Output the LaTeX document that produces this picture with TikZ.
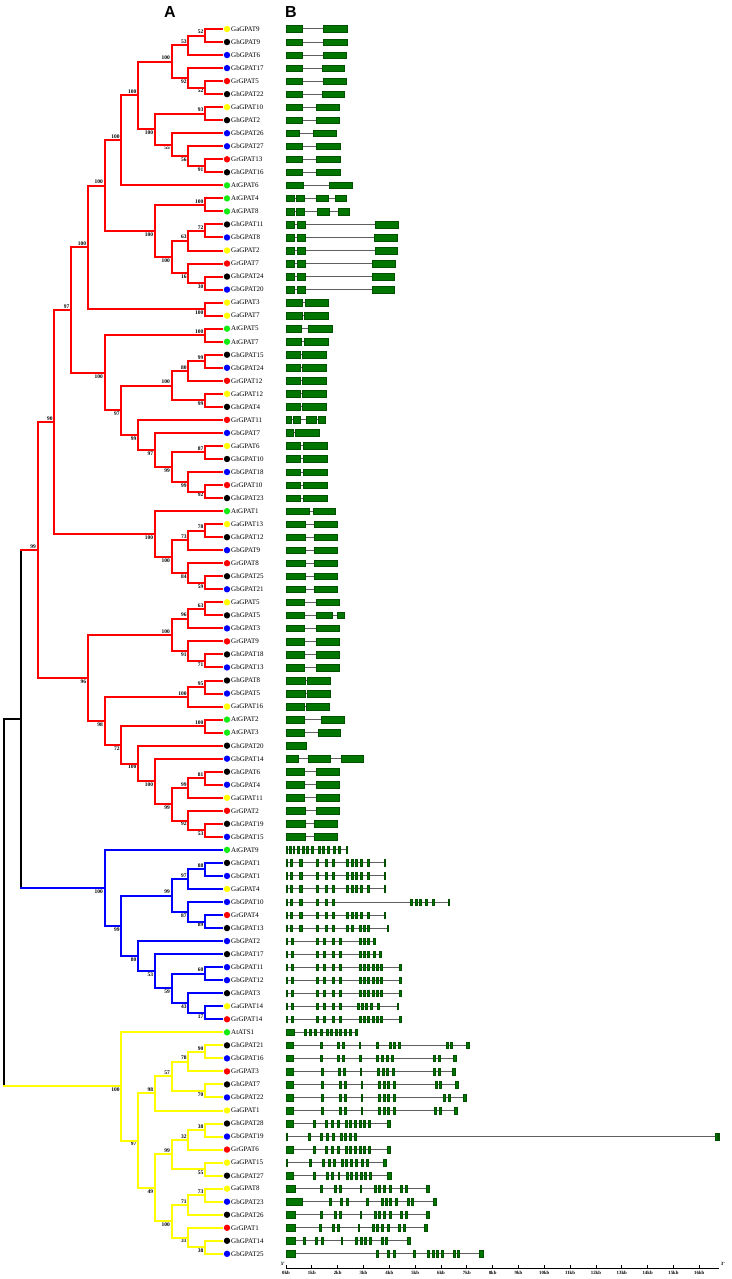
\documentclass[tikz,border=0pt]{standalone}
\usepackage{fontspec}
\setmainfont{Liberation Serif}
\newfontfamily\headfont{Liberation Sans}
\usetikzlibrary{calc}

\definecolor{cGa}{RGB}{255,255,0}
\definecolor{cGh}{RGB}{0,0,0}
\definecolor{cGb}{RGB}{0,0,255}
\definecolor{cGr}{RGB}{255,0,0}
\definecolor{cAt}{RGB}{20,235,20}
\definecolor{exonfill}{RGB}{0,118,0}
\definecolor{exonline}{RGB}{0,80,0}
\definecolor{introngray}{RGB}{95,95,95}
\colorlet{clade}{cGr}

\tikzset{
  treeline/.style={draw=clade, line width=2pt, line cap=rect},
  bs/.style={font=\fontsize{5.5}{6}\selectfont\bfseries, inner sep=1.5pt},
  leaf/.style={anchor=west, inner sep=0pt, font=\fontsize{7}{8}\selectfont},
  exon/.style={fill=exonfill, draw=exonline, line width=0.4pt},
  intron/.style={draw=introngray, line width=1pt},
  head/.style={font=\headfont\fontsize{16}{18}\selectfont\bfseries},
  kbl/.style={font=\fontsize{4.8}{5}\selectfont\bfseries, inner sep=0pt, anchor=north},
  axisline/.style={draw=black, line width=0.8pt}
}

% clade: name, upper child, lower child, support, label side
\newcommand\clade[5]{%
  \edef\hgtA{\csname ht#2\endcsname}\edef\hgtB{\csname ht#3\endcsname}%
  \pgfmathtruncatemacro\hgt{max(\hgtA,\hgtB)+1}%
  \expandafter\xdef\csname ht#1\endcsname{\hgt}%
  \pgfmathsetmacro\xc{221.75-16.75*\hgt}%
  \path let \p1=($(#2)!.5!(#3)$) in coordinate (#1) at (\xc pt,\y1);
  \draw[treeline] (#2) -- (#2 -| #1) -- (#3 -| #1) -- (#3);
  \node[bs,#5] at (#1) {#4};
}

% gene: leaf name, length, exons start/end
\newcommand\gene[3]{%
  \edef\exlist{#3}%
  \coordinate (g) at (#1 -| kb0);
  \draw[intron] (g) -- ++(#2,0);
  \foreach \s/\e in \exlist {\draw[exon] ([shift={(\s,-3.3)}]g) rectangle ([shift={(\e,3.3)}]g);}
}

\def\exGh{0/1.3, 4/5.7, 13.3/16, 29.7/31.7, 38.7/40.7, 45.7/47.7, 60.3/62.3, 64.7/66.7, 69/71, 74/76, 80.7/83.3, 98.3/99.3}
\def\exGb{0/1.3, 4.7/6.7, 29.7/31.7, 37.3/39.3, 45.7/47.7, 52.7/54.7, 73/75, 77/79, 81.3/83.3, 85.7/87.7, 90/92, 94/96, 113.3/114.7}
\def\exGr{0/7.3, 26.7/28.7, 39/41, 44.7/46.7, 51.3/52.7, 59/61, 63.3/65.3, 68/70, 73/75, 77.3/79.3, 82.3/84.3, 100.7/104}
\def\exGa{0/8.7, 34.3/36.3, 48/50, 53/55, 74/75.3, 88.3/90.3, 92.3/94.3, 96.7/98.7, 103/105, 114.3/116.3, 119/121, 140.3/143.3}

\begin{document}
\begin{tikzpicture}[x=1pt,y=-1pt]
\useasboundingbox (0,0) rectangle (731,1279);

\node[head] (hA) at (170,11.5) {A};
\node[head] (hB) at (291,11.5) {B};

% leaves
\foreach \g/\c [count=\i] in {GaGPAT9/cGa, GhGPAT9/cGh, GbGPAT6/cGb, GbGPAT17/cGb, GrGPAT5/cGr,
  GhGPAT22/cGh, GaGPAT10/cGa, GhGPAT2/cGh, GbGPAT26/cGb, GbGPAT27/cGb, GrGPAT13/cGr, GhGPAT16/cGh,
  AtGPAT6/cAt, AtGPAT4/cAt, AtGPAT8/cAt, GhGPAT11/cGh, GbGPAT8/cGb, GaGPAT2/cGa, GrGPAT7/cGr,
  GhGPAT24/cGh, GbGPAT20/cGb, GaGPAT3/cGa, GaGPAT7/cGa, AtGPAT5/cAt, AtGPAT7/cAt, GhGPAT15/cGh,
  GbGPAT24/cGb, GrGPAT12/cGr, GaGPAT12/cGa, GhGPAT4/cGh, GrGPAT11/cGr, GbGPAT7/cGb, GaGPAT6/cGa,
  GhGPAT10/cGh, GbGPAT18/cGb, GrGPAT10/cGr, GhGPAT23/cGh, AtGPAT1/cAt, GaGPAT13/cGa, GhGPAT12/cGh,
  GbGPAT9/cGb, GrGPAT8/cGr, GhGPAT25/cGh, GbGPAT21/cGb, GaGPAT5/cGa, GhGPAT5/cGh, GbGPAT3/cGb,
  GrGPAT9/cGr, GhGPAT18/cGh, GbGPAT13/cGb, GhGPAT8/cGh, GbGPAT5/cGb, GaGPAT16/cGa, AtGPAT2/cAt,
  AtGPAT3/cAt, GhGPAT20/cGh, GbGPAT14/cGb, GhGPAT6/cGh, GbGPAT4/cGb, GaGPAT11/cGa, GrGPAT2/cGr,
  GhGPAT19/cGh, GbGPAT15/cGb, AtGPAT9/cAt, GhGPAT1/cGh, GbGPAT1/cGb, GaGPAT4/cGa, GbGPAT10/cGb,
  GrGPAT4/cGr, GhGPAT13/cGh, GbGPAT2/cGb, GhGPAT17/cGh, GbGPAT11/cGb, GbGPAT12/cGb, GhGPAT3/cGh,
  GaGPAT14/cGa, GrGPAT14/cGr, AtATS1/cAt, GhGPAT21/cGh, GbGPAT16/cGb, GrGPAT3/cGr, GhGPAT7/cGh,
  GbGPAT22/cGb, GaGPAT1/cGa, GhGPAT28/cGh, GbGPAT19/cGb, GrGPAT6/cGr, GaGPAT15/cGa, GhGPAT27/cGh,
  GaGPAT8/cGa, GbGPAT23/cGb, GhGPAT26/cGh, GrGPAT1/cGr, GhGPAT14/cGh, GbGPAT25/cGb} {
  \coordinate (\g) at (222,{29+13.03*(\i-1)});
  \expandafter\xdef\csname ht\g\endcsname{0}
  \fill[\c] ([xshift=5pt]\g) circle (3.2);
  \node[leaf] at ([xshift=9pt]\g) {\g};
}

% red clade
\clade{c1}{GaGPAT9}{GhGPAT9}{52}{above left}
\clade{c2}{c1}{GbGPAT6}{53}{above left}
\clade{c3}{GrGPAT5}{GhGPAT22}{52}{below left}
\clade{c4}{GbGPAT17}{c3}{92}{below left}
\clade{c5}{c2}{c4}{100}{above left}
\clade{c6}{GaGPAT10}{GhGPAT2}{93}{above left}
\clade{c7}{GrGPAT13}{GhGPAT16}{91}{below left}
\clade{c8}{GbGPAT27}{c7}{56}{below left}
\clade{c9}{GbGPAT26}{c8}{55}{below left}
\clade{c10}{c6}{c9}{100}{below left}
\clade{c11}{c5}{c10}{100}{above left}
\clade{c12}{c11}{AtGPAT6}{100}{above left}
\clade{c13}{AtGPAT4}{AtGPAT8}{100}{above left}
\clade{c14}{GhGPAT11}{GbGPAT8}{72}{above left}
\clade{c15}{c14}{GaGPAT2}{63}{above left}
\clade{c16}{GhGPAT24}{GbGPAT20}{30}{below left}
\clade{c17}{GrGPAT7}{c16}{16}{below left}
\clade{c18}{c15}{c17}{100}{below left}
\clade{c19}{c13}{c18}{100}{below left}
\clade{c20}{c12}{c19}{100}{above left}
\clade{c21}{GaGPAT3}{GaGPAT7}{100}{below left}
\clade{c22}{c20}{c21}{100}{above left}
\clade{c23}{AtGPAT5}{AtGPAT7}{100}{above left}
\clade{c24}{GhGPAT15}{GbGPAT24}{99}{above left}
\clade{c25}{c24}{GrGPAT12}{80}{above left}
\clade{c26}{GaGPAT12}{GhGPAT4}{99}{below left}
\clade{c27}{c25}{c26}{100}{above left}
\clade{c28}{GaGPAT6}{GhGPAT10}{87}{above left}
\clade{c29}{GrGPAT10}{GhGPAT23}{92}{below left}
\clade{c30}{GbGPAT18}{c29}{99}{below left}
\clade{c31}{c28}{c30}{99}{below left}
\clade{c32}{GbGPAT7}{c31}{97}{below left}
\clade{c33}{GrGPAT11}{c32}{99}{below left}
\clade{c34}{c27}{c33}{97}{below left}
\clade{c35}{c23}{c34}{100}{below left}
\clade{c36}{c22}{c35}{97}{above left}
\clade{c37}{GaGPAT13}{GhGPAT12}{78}{above left}
\clade{c38}{c37}{GbGPAT9}{73}{above left}
\clade{c39}{GhGPAT25}{GbGPAT21}{59}{below left}
\clade{c40}{GrGPAT8}{c39}{84}{below left}
\clade{c41}{c38}{c40}{100}{below left}
\clade{c42}{AtGPAT1}{c41}{100}{below left}
\clade{c43}{c36}{c42}{90}{above left}
\clade{c44}{GaGPAT5}{GhGPAT5}{63}{above left}
\clade{c45}{c44}{GbGPAT3}{96}{above left}
\clade{c46}{GhGPAT18}{GbGPAT13}{71}{below left}
\clade{c47}{GrGPAT9}{c46}{91}{below left}
\clade{c48}{c45}{c47}{100}{above left}
\clade{c49}{GhGPAT8}{GbGPAT5}{95}{above left}
\clade{c50}{c49}{GaGPAT16}{100}{above left}
\clade{c51}{AtGPAT2}{AtGPAT3}{100}{above left}
\clade{c52}{GhGPAT6}{GbGPAT4}{81}{above left}
\clade{c53}{c52}{GaGPAT11}{99}{above left}
\clade{c54}{GhGPAT19}{GbGPAT15}{53}{below left}
\clade{c55}{GrGPAT2}{c54}{92}{below left}
\clade{c56}{c53}{c55}{99}{below left}
\clade{c57}{GbGPAT14}{c56}{100}{below left}
\clade{c58}{GhGPAT20}{c57}{100}{below left}
\clade{c59}{c51}{c58}{72}{below left}
\clade{c60}{c50}{c59}{98}{below left}
\clade{c61}{c48}{c60}{96}{below left}
\clade{c62}{c43}{c61}{99}{above left}

% blue clade
\colorlet{clade}{cGb}
\clade{c63}{GhGPAT1}{GbGPAT1}{88}{above left}
\clade{c64}{c63}{GaGPAT4}{97}{above left}
\clade{c65}{GrGPAT4}{GhGPAT13}{89}{below left}
\clade{c66}{GbGPAT10}{c65}{87}{below left}
\clade{c67}{c64}{c66}{99}{above left}
\clade{c68}{GbGPAT11}{GbGPAT12}{60}{above left}
\clade{c69}{GaGPAT14}{GrGPAT14}{17}{below left}
\clade{c70}{GhGPAT3}{c69}{43}{below left}
\clade{c71}{c68}{c70}{59}{below left}
\clade{c72}{GhGPAT17}{c71}{53}{below left}
\clade{c73}{GbGPAT2}{c72}{80}{below left}
\clade{c74}{c67}{c73}{99}{below left}
\clade{c75}{AtGPAT9}{c74}{100}{below left}

% yellow clade
\colorlet{clade}{cGa}
\clade{c76}{GhGPAT21}{GbGPAT16}{90}{above left}
\clade{c77}{c76}{GrGPAT3}{78}{above left}
\clade{c78}{GhGPAT7}{GbGPAT22}{70}{below left}
\clade{c79}{c77}{c78}{57}{above left}
\clade{c80}{c79}{GaGPAT1}{98}{above left}
\clade{c81}{GhGPAT28}{GbGPAT19}{38}{above left}
\clade{c82}{c81}{GrGPAT6}{32}{above left}
\clade{c83}{GaGPAT15}{GhGPAT27}{55}{below left}
\clade{c84}{c82}{c83}{99}{above left}
\clade{c85}{GaGPAT8}{GbGPAT23}{73}{above left}
\clade{c86}{c85}{GhGPAT26}{71}{above left}
\clade{c87}{GhGPAT14}{GbGPAT25}{38}{below left}
\clade{c88}{GrGPAT1}{c87}{31}{below left}
\clade{c89}{c86}{c88}{100}{below left}
\clade{c90}{c84}{c89}{49}{below left}
\clade{c91}{c80}{c90}{97}{below left}
\clade{c92}{AtATS1}{c91}{100}{below left}

% root
\colorlet{clade}{cGh}
\clade{c93}{c62}{c75}{}{above left}
\clade{c94}{c93}{c92}{}{above left}
\draw[treeline,cGr] (c62) -- (c62 -| c93);
\draw[treeline,cGb] (c75) -- (c75 -| c93);
\draw[treeline,cGa] (c92) -- (c92 -| c94);

% gene structures
\coordinate (kb0) at (286,0);
\gene{GaGPAT9}{60.7}{0/16, 37.3/60.7}
\gene{GhGPAT9}{60.7}{0/16, 37.3/60.7}
\gene{GbGPAT6}{60}{0/16, 37.3/60}
\gene{GbGPAT17}{58.3}{0/16, 35.7/58.3}
\gene{GrGPAT5}{59.7}{0/16, 36.7/59.7}
\gene{GhGPAT22}{58.3}{0/16, 35.7/58.3}
\gene{GaGPAT10}{53.3}{0/16, 30/53.3}
\gene{GhGPAT2}{53.3}{0/16, 30/53.3}
\gene{GbGPAT26}{49.7}{0/12.7, 26.7/49.7}
\gene{GbGPAT27}{54.3}{0/16, 30/54.3}
\gene{GrGPAT13}{54.3}{0/16, 30/54.3}
\gene{GhGPAT16}{54.3}{0/16, 30/54.3}
\gene{AtGPAT6}{65.7}{0/16.7, 43.3/65.7}
\gene{AtGPAT4}{59.7}{0/8.3, 10/18.3, 30/42.3, 49/59.7}
\gene{AtGPAT8}{62.7}{0/8.3, 10/18.3, 30.7/43.3, 52.3/62.7}
\gene{GhGPAT11}{111.7}{0/8.3, 11/19.3, 88.7/111.7}
\gene{GbGPAT8}{110.7}{0/8.3, 11/19.3, 88/110.7}
\gene{GaGPAT2}{110.7}{0/8.3, 11/19.3, 89/110.7}
\gene{GrGPAT7}{108.7}{0/8.3, 11/19.3, 85.7/108.7}
\gene{GhGPAT24}{108.3}{0/8.3, 11/19.3, 85.7/108.3}
\gene{GbGPAT20}{108.3}{0/8.3, 11/19.3, 85.7/108.3}
\gene{GaGPAT3}{42.3}{0/16, 19/42.3}
\gene{GaGPAT7}{41.7}{0/16, 18.3/41.7}
\gene{AtGPAT5}{45.7}{0/15, 22/45.7}
\gene{AtGPAT7}{41.7}{0/15, 18/41.7}
\gene{GhGPAT15}{39.7}{0/14, 16/39.7}
\gene{GbGPAT24}{39.7}{0/14, 16/39.7}
\gene{GrGPAT12}{39.7}{0/14, 16/39.7}
\gene{GaGPAT12}{39.7}{0/14, 16/39.7}
\gene{GhGPAT4}{39.7}{0/14, 16/39.7}
\gene{GrGPAT11}{39}{0/5, 6.7/14, 20/30, 31.7/39}
\gene{GbGPAT7}{33}{0/6.7, 9.3/33}
\gene{GaGPAT6}{40.7}{0/14.3, 16.7/40.7}
\gene{GhGPAT10}{40.7}{0/14.3, 16.7/40.7}
\gene{GbGPAT18}{40.7}{0/14.3, 16.7/40.7}
\gene{GrGPAT10}{40.7}{0/14.3, 16.7/40.7}
\gene{GhGPAT23}{40.7}{0/14.3, 16.7/40.7}
\gene{AtGPAT1}{49}{0/23, 26.7/49}
\gene{GaGPAT13}{51}{0/19, 28.3/51}
\gene{GhGPAT12}{51}{0/19, 28.3/51}
\gene{GbGPAT9}{51}{0/19, 28.3/51}
\gene{GrGPAT8}{51}{0/19, 28.3/51}
\gene{GhGPAT25}{51}{0/19, 28.3/51}
\gene{GbGPAT21}{51}{0/19, 28.3/51}
\gene{GaGPAT5}{52.7}{0/17.7, 30/52.7}
\gene{GhGPAT5}{58.3}{0/17.7, 30/45.7, 51.3/58.3}
\gene{GbGPAT3}{52.7}{0/17.7, 30/52.7}
\gene{GrGPAT9}{52.7}{0/17.7, 30/52.7}
\gene{GhGPAT18}{52.7}{0/17.7, 30/52.7}
\gene{GbGPAT13}{52.7}{0/17.7, 30/52.7}
\gene{GhGPAT8}{44}{0/18.7, 20.7/44}
\gene{GbGPAT5}{44}{0/18.7, 20.7/44}
\gene{GaGPAT16}{42.7}{0/17.7, 20/42.7}
\gene{AtGPAT2}{57.7}{0/18, 35/57.7}
\gene{AtGPAT3}{54.3}{0/17.7, 31.7/54.3}
\gene{GhGPAT20}{20}{0/20}
\gene{GbGPAT14}{77}{0/12.3, 21.7/43.7, 54.7/77}
\gene{GhGPAT6}{52.7}{0/18.3, 30/52.7}
\gene{GbGPAT4}{52.7}{0/18.3, 30/52.7}
\gene{GaGPAT11}{52.7}{0/18.3, 30/52.7}
\gene{GrGPAT2}{52.7}{0/19.3, 30/52.7}
\gene{GhGPAT19}{51}{0/19.3, 28.3/51}
\gene{GbGPAT15}{51}{0/19.3, 28.3/51}
\gene{AtGPAT9}{61}{0/1.5, 3.5/5, 7/8.5, 11.5/13.5, 16/18, 20.5/22.5, 25.5/27.5, 32/34, 36.5/38.5, 41.5/43.5, 47.5/49.5, 52/54, 60/61}
\gene{GhGPAT1}{99.3}{\exGh}
\gene{GbGPAT1}{99.3}{\exGh}
\gene{GaGPAT4}{99.3}{\exGh}
\gene{GbGPAT10}{163.3}{0/1.3, 4/5.7, 13.3/16, 29.7/31.7, 38.7/40.7, 45.7/47.7, 124/126, 128.7/130.7, 133.3/135.3, 139.3/141.3, 145.7/147.7, 162/163.3}
\gene{GrGPAT4}{99.3}{\exGh}
\gene{GhGPAT13}{102}{0/1.3, 4/5.7, 13.3/16, 29.7/31.7, 38.7/40.7, 45.7/47.7, 60.3/62.3, 64.7/66.7, 72.7/74.7, 76.7/78.7, 81.3/83.3, 100.7/102}
\gene{GbGPAT2}{89.3}{0/1.3, 4.7/6.7, 29.7/31.7, 37.3/39.3, 45.7/47.7, 52.7/54.7, 73/75, 77/79, 81/83, 87.3/89.3}
\gene{GhGPAT17}{95.3}{0/1.3, 4.7/6.7, 29.7/31.7, 37.3/39.3, 45.7/47.7, 52.7/54.7, 73/75, 77/79, 81/83, 87.3/89.3, 93/95.3}
\gene{GbGPAT11}{114.7}{\exGb}
\gene{GbGPAT12}{114.7}{\exGb}
\gene{GhGPAT3}{114.7}{\exGb}
\gene{GaGPAT14}{112}{0/1.3, 4.7/6.7, 29.7/31.7, 37.3/39.3, 45.7/47.7, 52.7/54.7, 70.7/72.7, 75/77, 79.3/81.3, 84/86, 90.7/92.7, 110.7/112}
\gene{GrGPAT14}{114.7}{\exGb}
\gene{AtATS1}{71.3}{0/8, 18/20, 23.3/25.3, 28.3/30.3, 34/36, 39.7/41.7, 44/46, 48.7/50.7, 53.3/55.3, 58.3/60.3, 63.3/65.3, 69/71.3}
\gene{GhGPAT21}{183.3}{0/7.3, 34/36.3, 50.7/53, 56.3/58.3, 73/74.3, 90.3/92.3, 103/105, 106.7/108.7, 112.3/114.3, 159.7/161.7, 164.3/166.3, 180/183.3}
\gene{GbGPAT16}{170}{0/7.3, 34/36.3, 51.3/53.3, 56.3/58.3, 73.3/74.7, 90/92, 95.3/97.3, 99.7/101.7, 105.3/107.3, 147/149, 152/154, 167.3/170}
\gene{GrGPAT3}{169}{0/7.3, 34.7/36.7, 52.3/54.3, 57.3/59.3, 74/75.3, 91.3/93.3, 95.7/97.7, 100/102, 106.3/108.3, 147/149, 152/154, 165.7/169}
\gene{GhGPAT7}{171.7}{0/7.3, 35.3/37.3, 53/55, 58/60, 75/76.3, 92/94, 96.7/98.7, 101.3/103.3, 107.3/109.3, 148.7/150.7, 153.3/155.3, 168.7/171.7}
\gene{GbGPAT22}{180}{0/7.3, 35.3/37.3, 53/55, 58/60, 75/76.3, 92/94, 96.7/98.7, 101.3/103.3, 107.3/109.3, 157/159, 162/164, 176.7/180}
\gene{GaGPAT1}{171}{0/7.3, 35.3/37.3, 53/55, 58/60, 75/76.3, 92/94, 96.7/98.7, 101.3/103.3, 107.3/109.3, 148/150, 152.7/154.7, 168/171}
\gene{GhGPAT28}{104}{\exGr}
\gene{GbGPAT19}{433.3}{0/1.3, 22.3/24.3, 34.3/36.3, 40/42, 45.7/47.7, 54/56, 58.3/60.3, 63/65, 68/70, 429/430.7, 431.7/433.3}
\gene{GrGPAT6}{104}{\exGr}
\gene{GaGPAT15}{100}{0/1.3, 23.3/25.3, 36/38, 41.7/43.7, 47.3/48.7, 55/57, 59.3/61.3, 64/66, 69.3/71.3, 74.7/76.7, 79.7/81.7, 97.3/100}
\gene{GhGPAT27}{104.7}{0/7.3, 27.3/29.3, 39.7/41.7, 45.3/47.3, 51.7/53, 59.7/61.7, 64/66, 68.7/70.7, 73.7/75.7, 78/80, 83/85, 101.3/104.7}
\gene{GaGPAT8}{143.3}{\exGa}
\gene{GbGPAT23}{150}{0/16, 42.7/44.7, 54.3/56.3, 59.7/61.7, 80.3/81.7, 94.7/96.7, 99/101, 103.3/105.3, 109/111, 120.7/122.7, 125.3/127.3, 146.7/150}
\gene{GhGPAT26}{143.3}{\exGa}
\gene{GrGPAT1}{141.3}{0/8.7, 33.3/35.3, 45.7/47.7, 51.3/53.3, 72/73.3, 86/88, 90/92, 95.3/97.3, 100.7/102.7, 112/114, 116.7/118.7, 138/141.3}
\gene{GhGPAT14}{124}{0/8.7, 16.7/18.7, 29/31, 34.7/36.7, 55/56.3, 69.3/71.3, 73.7/75.7, 78/80, 83.3/85.3, 94.7/96.7, 99/101, 120.7/124}
\gene{GbGPAT25}{196.7}{0/8.7, 89.7/91.7, 101.3/103.3, 106.7/108.7, 127.3/128.7, 141.3/143.3, 145.7/147.7, 149.7/151.7, 155.3/157.3, 166.7/168.7, 171.3/173.3, 193.3/196.7}

% scale bar
\coordinate (ax0) at (286,1268);
\coordinate (ax1) at (718.7,1268);
\draw[axisline] (ax0) -- (ax1);
\foreach \k in {0,...,16} {
  \draw[axisline] ([xshift=\k*25.83pt]ax0) -- ++(0,-3);
  \node[kbl] at ([xshift=\k*25.83pt, yshift=-2.5pt]ax0) {\k kb};
}
\node[kbl, anchor=south east] at ([xshift=-1pt, yshift=2pt]ax0) {5'};
\node[kbl, anchor=south west] at ([xshift=2pt, yshift=2pt]ax1) {3'};
\end{tikzpicture}
\end{document}
